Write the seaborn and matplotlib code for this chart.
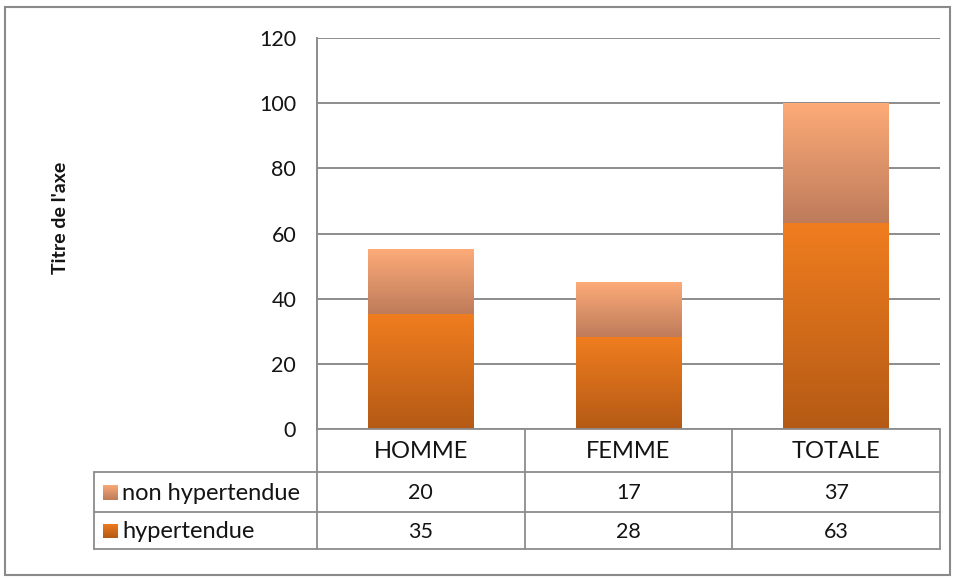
import numpy as np
import matplotlib
matplotlib.use("Agg")
import matplotlib.pyplot as plt
import seaborn as sns
import pandas as pd
from matplotlib.colors import LinearSegmentedColormap
from matplotlib.patches import Rectangle
from matplotlib.lines import Line2D
from matplotlib.transforms import blended_transform_factory

categories = ["HOMME", "FEMME", "TOTALE"]
hypertendue = [35, 28, 63]
non_hypertendue = [20, 17, 37]
series_names = ["non hypertendue", "hypertendue"]
y_ticks = [0, 20, 40, 60, 80, 100, 120]
axis_title = "Titre de l'axe"

sns.set_theme(style="white")
plt.rcParams['font.family'] = ['Lato', 'DejaVu Sans']

W, H = 956, 579
TXT = "#141414"
GRID = "#8c8c8c"
FS = 15.5      # digits
FS_W = 17      # words

fig = plt.figure(figsize=(W / 100, H / 100), dpi=100)
fig.patch.set_facecolor("white")
ax_l, ax_r, ax_t, ax_b = 317, 940, 38, 429
ax = fig.add_axes([ax_l / W, 1 - ax_b / H, (ax_r - ax_l) / W, (ax_b - ax_t) / H])

df = pd.DataFrame({"cat": categories, "hyp": hypertendue, "non": non_hypertendue})
df["total"] = df["hyp"] + df["non"]

sns.barplot(data=df, x="cat", y="total", order=categories, width=0.51,
            color="#fdab78", saturation=1, errorbar=None, ax=ax, edgecolor="none")
n_total = len(ax.patches)
sns.barplot(data=df, x="cat", y="hyp", order=categories, width=0.51,
            color="#ee7b1f", saturation=1, errorbar=None, ax=ax, edgecolor="none")

grad = np.linspace(0, 1, 256).reshape(-1, 1)
cmap_hyp = LinearSegmentedColormap.from_list("h", ["#b45a15", "#f07d1f"])
cmap_non = LinearSegmentedColormap.from_list("n", ["#bd7b5a", "#fdab78"])
total_patches = list(ax.patches[:n_total])
hyp_patches = list(ax.patches[n_total:])
for tp, hp in zip(total_patches, hyp_patches):
    x0, w = tp.get_x(), tp.get_width()
    h_top, t_top = hp.get_height(), tp.get_height()
    ax.imshow(grad, cmap=cmap_non, origin="lower", aspect="auto",
              extent=[x0, x0 + w, h_top, t_top], zorder=2.5, interpolation="bicubic")
    ax.imshow(grad, cmap=cmap_hyp, origin="lower", aspect="auto",
              extent=[x0, x0 + w, 0, h_top], zorder=2.5, interpolation="bicubic")
    tp.set_alpha(0)
    hp.set_alpha(0)

ax.set_xlim(-0.5, len(categories) - 0.5)
ax.set_ylim(0, 120)
ax.set_yticks(y_ticks)
ax.set_xticks([])
ax.set_xlabel("")
ax.set_ylabel("")
ax.yaxis.grid(True, color=GRID, lw=1.4)
ax.set_axisbelow(True)
for s in ["top", "right", "bottom"]:
    ax.spines[s].set_visible(False)
ax.spines["left"].set_color(GRID)
ax.spines["left"].set_linewidth(1.4)
ax.tick_params(axis="y", length=0, pad=15, labelsize=FS, labelcolor=TXT)

# ---- data table drawn below the axes ----
def fy(py):
    return 1 - py / H

def fx(px):
    return px / W

bt = blended_transform_factory(ax.transData, fig.transFigure)
row_edges = [429, 472, 512, 549]  # pixel y of table horizontal lines
tab_left = 94
lw = 1.3

fig.add_artist(Line2D([fx(ax_l), fx(ax_r)], [fy(row_edges[0])] * 2, color=GRID, lw=lw))
for ye in row_edges[1:]:
    fig.add_artist(Line2D([fx(tab_left), fx(ax_r)], [fy(ye)] * 2, color=GRID, lw=lw))
fig.add_artist(Line2D([fx(tab_left)] * 2, [fy(row_edges[1]), fy(row_edges[-1])], color=GRID, lw=lw))
for i in range(len(categories) + 1):
    xb = i - 0.5
    fig.add_artist(Line2D([xb, xb], [fy(row_edges[0]), fy(row_edges[-1])],
                          transform=bt, color=GRID, lw=lw, clip_on=False))

for i, c in enumerate(categories):
    fig.text(i, fy((row_edges[0] + row_edges[1]) / 2 + 1), c, transform=bt,
             ha="center", va="center", fontsize=FS_W, color=TXT)

rows = [non_hypertendue, hypertendue]
cmaps = [cmap_non, cmap_hyp]
for r, (name, vals, cm) in enumerate(zip(series_names, rows, cmaps)):
    yc = (row_edges[r + 1] + row_edges[r + 2]) / 2 + 1
    for i, v in enumerate(vals):
        fig.text(i, fy(yc), str(v), transform=bt, ha="center", va="center",
                 fontsize=FS, color=TXT)
    fig.text(fx(122), fy(yc), name, ha="left", va="center", fontsize=FS_W, color=TXT)
    kax = fig.add_axes([fx(103), fy(yc + 7), 15 / W, 15 / H])
    kax.imshow(grad, cmap=cm, origin="lower", aspect="auto")
    kax.axis("off")

fig.text(fx(60), fy(218), axis_title, rotation=90, ha="center", va="center",
         fontsize=14, fontweight="bold", color=TXT)

fig.patches.append(Rectangle((5 / W, 4 / H), 945 / W, 568 / H, transform=fig.transFigure,
                             fill=False, ec="#8a8a8a", lw=1.5))

fig.savefig("out.png", dpi=100)
